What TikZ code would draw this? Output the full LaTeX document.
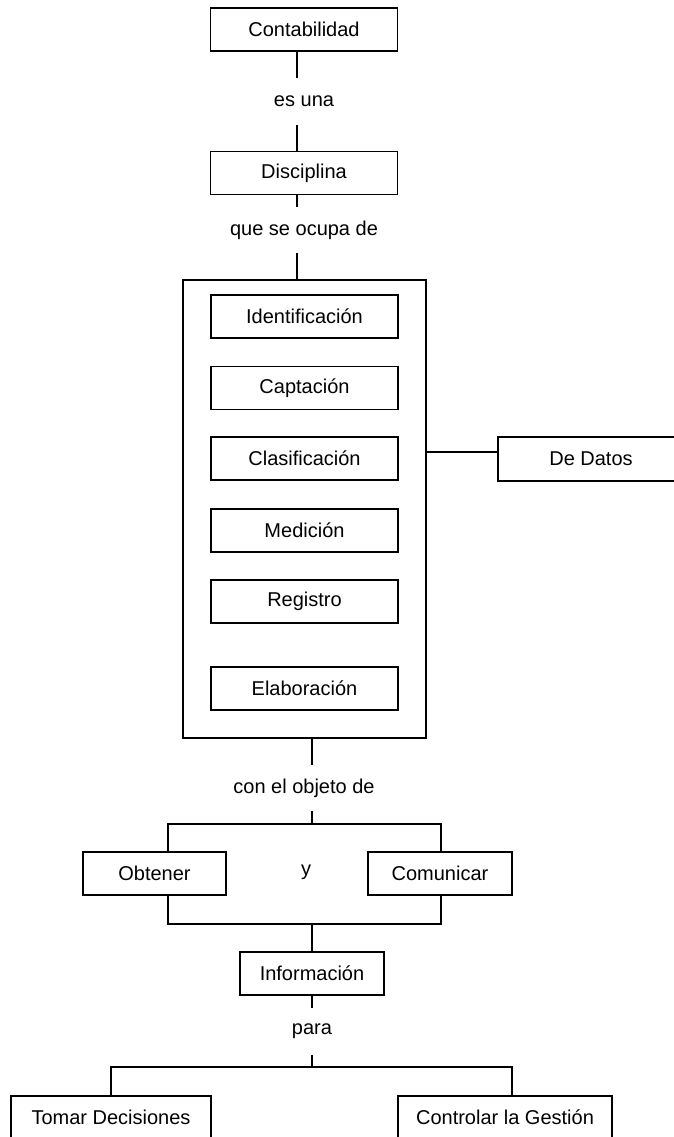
\documentclass[tikz,border=0pt]{standalone}
\usepackage{fontspec}
\setmainfont{Liberation Sans}
\usepackage{tikz}
\usetikzlibrary{positioning}
\usetikzlibrary{calc}

\begin{document}
\begin{tikzpicture}[x=1pt,y=-1pt,line width=1.7pt,
	every node/.style={font=\fontsize{20}{24}\selectfont, inner sep=0pt},
	caja/.style={draw, minimum width=187pt, minimum height=43pt},
	enlace/.style={minimum height=45pt}]
			\useasboundingbox (0,0) rectangle (674,1137);
			\clip (0,0) rectangle (674,1137);
			\node at (304,29.5) (cont) [caja] {Contabilidad} ;
			\node at (304,101.5) (esuna) [enlace] {es una} ;
			\node at (304,173) (disc) [caja] {Disciplina} ;
			\node at (304,230) (ocupa) [enlace, minimum height=44pt] {que se ocupa de} ;
			\node at (304.5,509) (gr1) [draw, minimum width=243pt, minimum height=458pt] {};
			\node at (304.5,316.5) (ident) [caja] {Identificación} ;
			\node at (304.5,388) (capt) [caja] {Captación} ;
			\node at (304.5,458.5) (clasif) [caja] {Clasificación} ;
			\node at (304.5,530.5) (medic) [caja] {Medición} ;
			\node at (304.5,601.5) (regis) [caja] {Registro} ;
			\node at (304.5,688.5) (elab) [caja] {Elaboración} ;
			\node at (591,459) (datos) [caja, minimum width=186pt, minimum height=44pt] {De Datos} ;
			\draw ([xshift=-7pt]cont.south) -- ([xshift=-7pt]esuna.north); \draw ([xshift=-7pt]esuna.south) -- ([xshift=-7pt]disc.north);
			\draw ([xshift=-7pt]disc.south) -- ([xshift=-7pt]ocupa.north); \draw ([xshift=-7pt]ocupa.south) -- ([xshift=-7.5pt]gr1.north);
			\draw ([yshift=7pt]datos.west) -- ([yshift=7pt]datos.west -| gr1.east);
			\node at (304,788) (objeto) [enlace, minimum height=44pt] {con el objeto de} ;
			\node at (154.5,873.5) (obt) [caja, minimum width=143pt] {Obtener} ;
			\node at (306,872) (y1) {y} ;
			\node at (440,873.5) (com) [caja, minimum width=144pt] {Comunicar} ;
			\node at (312,973.5) (info) [caja, minimum width=144pt] {Información} ;
			\node at (312,1031.5) (para) [enlace] {para} ;
			\node at (111,1117.5) (tomar) [caja, minimum width=200pt] {Tomar Decisiones} ;
			\node at (505,1117.5) (control) [caja, minimum width=214pt] {Controlar la Gestión} ;
			\coordinate (split1) at (312,824); \coordinate (join1) at (312,924); \coordinate (split2) at (312,1067);
			\draw ([xshift=7.5pt]gr1.south) -- ([xshift=8pt]objeto.north); \draw ([xshift=8pt]objeto.south) -- (split1);
			\draw ([xshift=13.5pt]obt.north) |- (split1) -| ([xshift=1pt]com.north);
			\draw ([xshift=13.5pt]obt.south) |- (join1) -| ([xshift=1pt]com.south); \draw (join1) -- (info.north);
			\draw (info.south) -- (para.north); \draw (para.south) -- (split2);
			\draw (tomar.north) |- (split2) -| ([xshift=7pt]control.north);
			\end{tikzpicture}
\end{document}
